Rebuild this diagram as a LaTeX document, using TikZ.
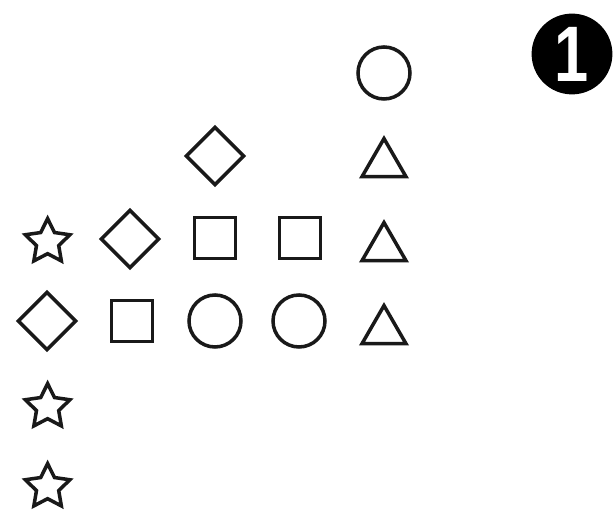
\documentclass[tikz,border=0pt]{standalone}
\usepackage{fontspec}
\usepackage{tikz}
\usetikzlibrary{shapes.geometric}
\newfontfamily\badgefont[FakeStretch=0.78]{Liberation Sans}

\begin{document}
\begin{tikzpicture}[
    shp/.style={draw=black!90,line width=2.5pt,inner sep=0pt,fill=white},
    ring/.style={shp,circle,minimum size=1.3cm},
    sqr/.style={shp,rectangle,minimum size=1.03cm},
    dia/.style={shp,diamond,minimum width=1.47cm,minimum height=1.47cm},
    tri/.style={shp,regular polygon,regular polygon sides=3,minimum size=1.27cm},
    starshp/.style={shp,star,star points=5,star point ratio=2.0,minimum size=1.17cm}]

    \useasboundingbox (0,0) rectangle (15.35,12.825);

    % ── numero ────────────────────────────────────────────
    \node[circle,fill=black,minimum size=2.02cm,inner sep=0pt,text=white,
          font=\badgefont\bfseries\fontsize{56}{56}\selectfont] (num) at (14.3,11.475){1};

    % ── linha 1 ───────────────────────────────────────────
    \node[ring] (r1c5) at (9.6,11.0){};

    % ── linha 2 ───────────────────────────────────────────
    \node[dia] (r2c3) at (5.375,8.925){};
    \node[tri] (r2c5) at (9.6,8.725){};

    % ── linha 3 ───────────────────────────────────────────
    \node[starshp] (r3c1) at (1.19,6.775){};
    \node[dia] (r3c2) at (3.25,6.85){};
    \node[sqr] (r3c3) at (5.375,6.875){};
    \node[sqr] (r3c4) at (7.5,6.875){};
    \node[tri] (r3c5) at (9.6,6.625){};

    % ── linha 4 ───────────────────────────────────────────
    \node[dia] (r4c1) at (1.175,4.8){};
    \node[sqr] (r4c2) at (3.3,4.8){};
    \node[ring] (r4c3) at (5.375,4.8){};
    \node[ring] (r4c4) at (7.475,4.8){};
    \node[tri] (r4c5) at (9.6,4.55){};

    % ── estrelas ──────────────────────────────────────────
    \node[starshp] (r5c1) at (1.19,2.65){};
    \node[starshp] (r6c1) at (1.19,0.65){};

\end{tikzpicture}
\end{document}
